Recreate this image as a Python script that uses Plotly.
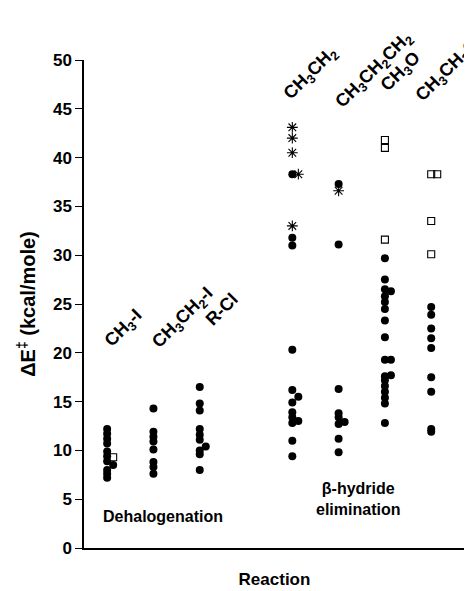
import plotly.graph_objects as go

# ---------------- data ----------------
categories = ["CH<sub>3</sub>-I", "CH<sub>3</sub>CH<sub>2</sub>-I", "R-Cl",
              "CH<sub>3</sub>CH<sub>2</sub>", "CH<sub>3</sub>CH<sub>2</sub>CH<sub>2</sub>",
              "CH<sub>3</sub>O", "CH<sub>3</sub>CH<sub>2</sub>O"]
cat_pos = [1, 2, 3, 5, 6, 7, 8]

# filled circles (on column)
dots = [
    [12.2, 11.7, 11.2, 10.7, 9.9, 9.4, 8.9, 8.0, 7.6, 7.2],
    [14.3, 11.9, 11.4, 10.9, 10.1, 8.8, 8.3, 7.6],
    [16.5, 14.8, 14.1, 12.2, 11.6, 11.1, 10.0, 9.6, 8.0],
    [38.3, 31.8, 31.0, 20.3, 16.2, 14.9, 13.9, 13.4, 12.8, 11.0, 9.4],
    [37.3, 31.1, 16.3, 13.8, 13.4, 12.7, 11.2, 9.8],
    [29.7, 27.5, 26.5, 25.8, 25.2, 24.5, 23.3, 21.6, 19.3, 17.6, 17.2, 16.6, 16.0, 15.4, 14.8, 12.8],
    [24.7, 23.9, 22.5, 21.5, 20.5, 17.5, 16.0, 12.2, 11.9],
]
# filled circles drawn slightly right of the column (overlapping points)
dots_side = [
    [8.5], [], [10.4], [15.5, 13.0], [12.9], [26.3, 19.3, 17.7], [],
]
# open squares
squares = [[], [], [], [], [], [41.8, 41.0, 31.6], [38.3, 33.5, 30.1]]
squares_side = [[9.3], [], [], [], [], [], [38.3]]
# asterisks
stars = [[], [], [], [43.1, 42.0, 40.5, 33.0], [36.6], [], []]
stars_side = [[], [], [], [38.3], [], [], []]

y_ticks = [0, 5, 10, 15, 20, 25, 30, 35, 40, 45, 50]

# ---------------- figure ----------------
FONT = "Arial, Liberation Sans, sans-serif"
SIDE = 0.13
fig = go.Figure()


def add_points(groups, shift, symbol, size, filled):
    xs, ys = [], []
    for p, vals in zip(cat_pos, groups):
        for v in vals:
            xs.append(p + shift)
            ys.append(v)
    if filled:
        marker = dict(symbol=symbol, size=size, color="black", line=dict(width=0))
    else:
        marker = dict(symbol=symbol, size=size, color="black",
                      line=dict(width=1.1, color="black"))
    fig.add_trace(go.Scatter(x=xs, y=ys, mode="markers", marker=marker,
                             showlegend=False, hoverinfo="y", cliponaxis=False))


add_points(dots, 0, "circle", 8, True)
add_points(dots_side, SIDE, "circle", 8, True)
add_points(squares, 0, "square-open", 7, False)
add_points(squares_side, SIDE, "square-open", 7, False)
add_points(stars, 0, "asterisk-open", 9, False)
add_points(stars_side, SIDE, "asterisk-open", 9, False)

# rotated column labels
label_xy = [(1.37, 22.5), (2.64, 23.5), (3.48, 24.5),
            (5.41, 48.6), (6.77, 48.9), (7.35, 48.7), (8.36, 48.9)]
for text, (lx, ly) in zip(categories, label_xy):
    fig.add_annotation(x=lx, y=ly, text="<b>" + text + "</b>", textangle=-45,
                       showarrow=False, xanchor="center", yanchor="middle",
                       font=dict(family=FONT, size=18, color="black"))

# group labels
fig.add_annotation(x=2.2, y=3.2, text="<b>Dehalogenation</b>", showarrow=False,
                   font=dict(family=FONT, size=16, color="black"))
fig.add_annotation(x=6.42, y=5.0, text="<b>β-hydride<br>elimination</b>", showarrow=False,
                   font=dict(family=FONT, size=16, color="black"))

# page has an 8px body margin, so the figure is sized to fit the 472x591 window
fig.update_layout(
    width=464, height=583,
    margin=dict(l=76, r=7, t=52, b=43),
    paper_bgcolor="white", plot_bgcolor="white",
    font=dict(family=FONT, size=15, color="black"),
    xaxis=dict(range=[0.5, 8.73], showticklabels=False, ticks="", showgrid=False,
               zeroline=False, showline=True, linecolor="black", linewidth=1.5,
               title=dict(text="<b>Reaction</b>", font=dict(size=17), standoff=24)),
    yaxis=dict(range=[0, 50], tickvals=y_ticks,
               ticktext=["<b>%d</b>" % t for t in y_ticks],
               ticks="outside", ticklen=7, tickwidth=1.2, tickcolor="black",
               showgrid=False, zeroline=False, showline=True, linecolor="black",
               linewidth=1.5, tickfont=dict(size=17),
               title=dict(text="<b>ΔE<sup>‡</sup> (kcal/mole)</b>", font=dict(size=20),
                          standoff=12)),
)

fig.write_html("out.html")
